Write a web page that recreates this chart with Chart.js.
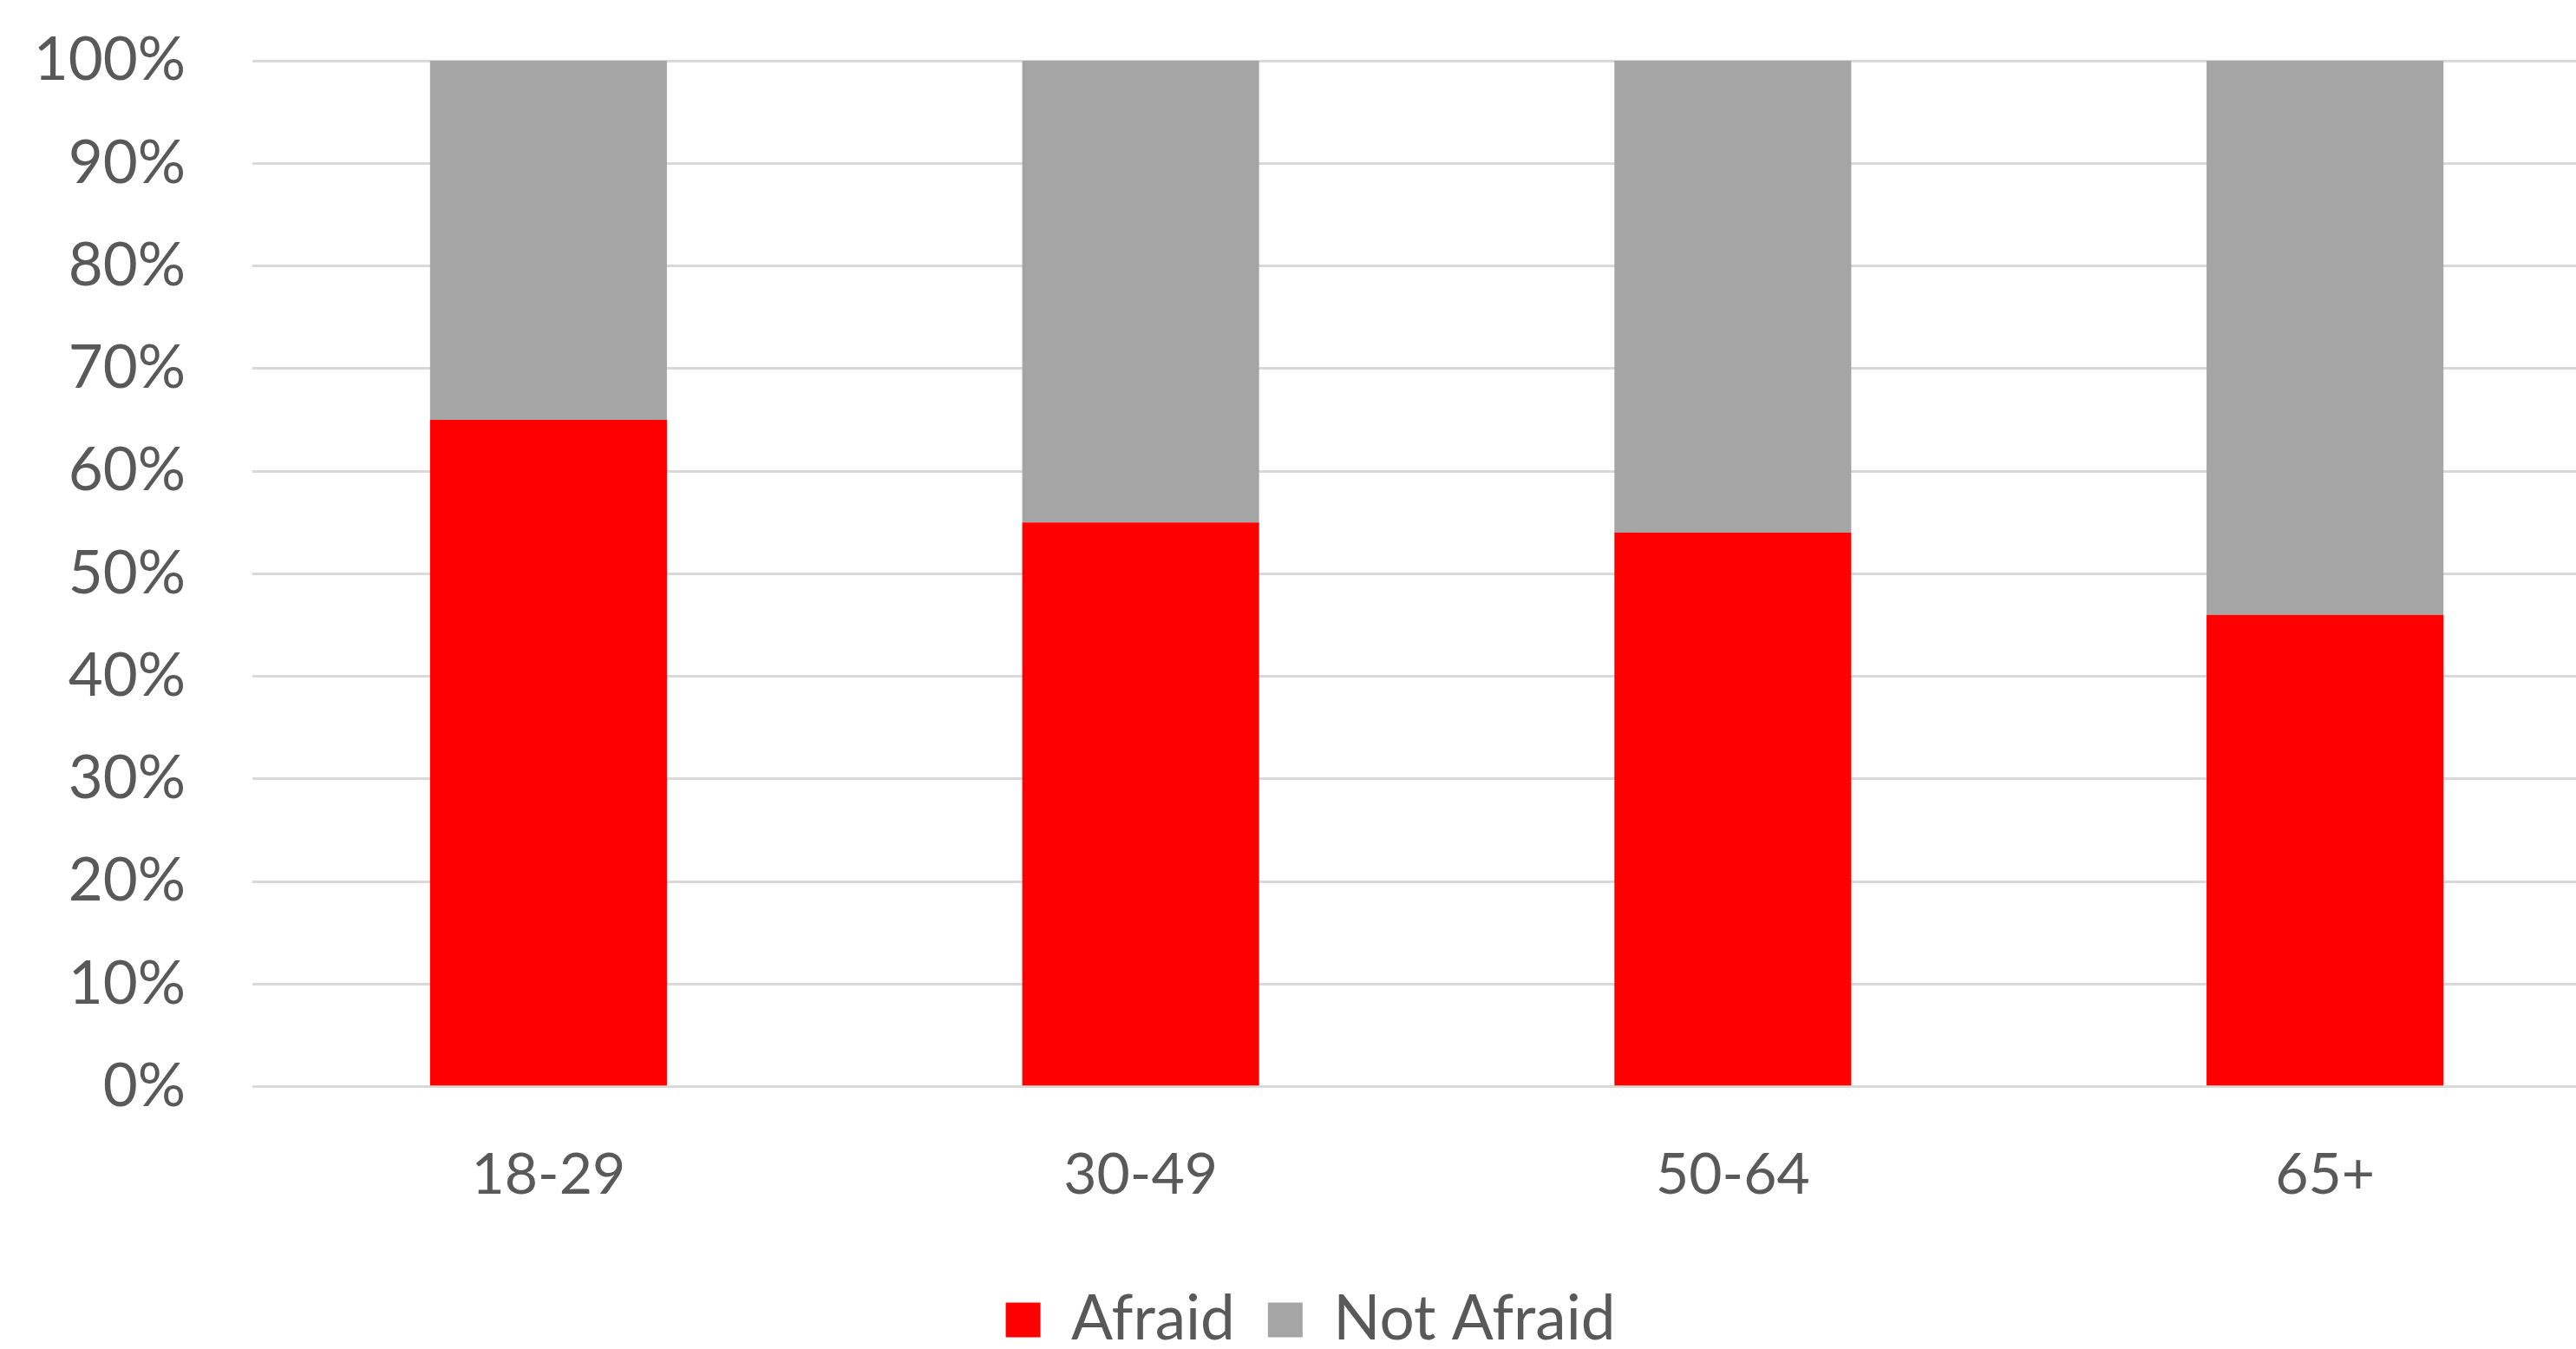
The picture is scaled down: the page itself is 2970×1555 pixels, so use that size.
<!DOCTYPE html>
<html>
<head>
<meta charset="utf-8">
<script src="https://cdn.jsdelivr.net/npm/chart.js@4"></script>
<style>
  html, body { margin: 0; padding: 0; background: #fff; overflow: hidden; }
  #wrap { width: 3022px; height: 1555px; position: relative; }
</style>
</head>
<body>
<div id="wrap"><canvas id="chart"></canvas></div>
<script>
/* Afraid vs not afraid, by age group (stacked to 100%) */

/* ── Data ───────────────────────────────────────────────────────── */
var ageGroups = ['18-29', '30-49', '50-64', '65+'];
var afraid    = [65, 55, 54, 46];
var notAfraid = [35, 45, 46, 54];
var yTicks    = [0, 10, 20, 30, 40, 50, 60, 70, 80, 90, 100];

var TEXT_COLOR = '#595959';
var GRID_COLOR = '#d9d9d9';
var FONT = "Lato, 'Open Sans', sans-serif";

new Chart(document.getElementById('chart'), {
  type: 'bar',
  data: {
    labels: ageGroups,
    datasets: [
      { label: 'Afraid', data: afraid, backgroundColor: '#ff0000',
        barPercentage: 0.4, categoryPercentage: 1 },
      { label: 'Not Afraid', data: notAfraid, backgroundColor: '#a5a5a5',
        barPercentage: 0.4, categoryPercentage: 1 }
    ]
  },
  options: {
    responsive: true,
    maintainAspectRatio: false,
    animation: false,
    layout: { padding: { left: 0, right: 0, top: 70, bottom: -12 } },
    scales: {
      x: {
        stacked: true,
        grid: { display: false },
        border: { display: false },
        ticks: { color: TEXT_COLOR, font: { family: FONT, size: 66 }, padding: 54 }
      },
      y: {
        stacked: true,
        min: 0, max: 100,
        afterBuildTicks: function(axis) {
          axis.ticks = yTicks.map(function(v) { return { value: v }; });
        },
        // fixed axis width; tick padding should not push the plot top down
        afterFit: function(axis) {
          axis.width = 291;
          axis.paddingTop = 0;
          axis.paddingBottom = 0;
        },
        grid: { color: GRID_COLOR, lineWidth: 3, drawTicks: false },
        border: { display: false },
        ticks: {
          color: TEXT_COLOR,
          font: { family: FONT, size: 69 },
          padding: 77,
          callback: function(v) { return v + '%'; }
        }
      }
    },
    plugins: {
      legend: {
        position: 'bottom',
        labels: {
          color: TEXT_COLOR,
          font: { family: FONT, size: 71 },
          boxWidth: 40,
          boxHeight: 40,
          padding: 38
        }
      },
      tooltip: { enabled: false }
    }
  }
});
</script>
</body>
</html>
